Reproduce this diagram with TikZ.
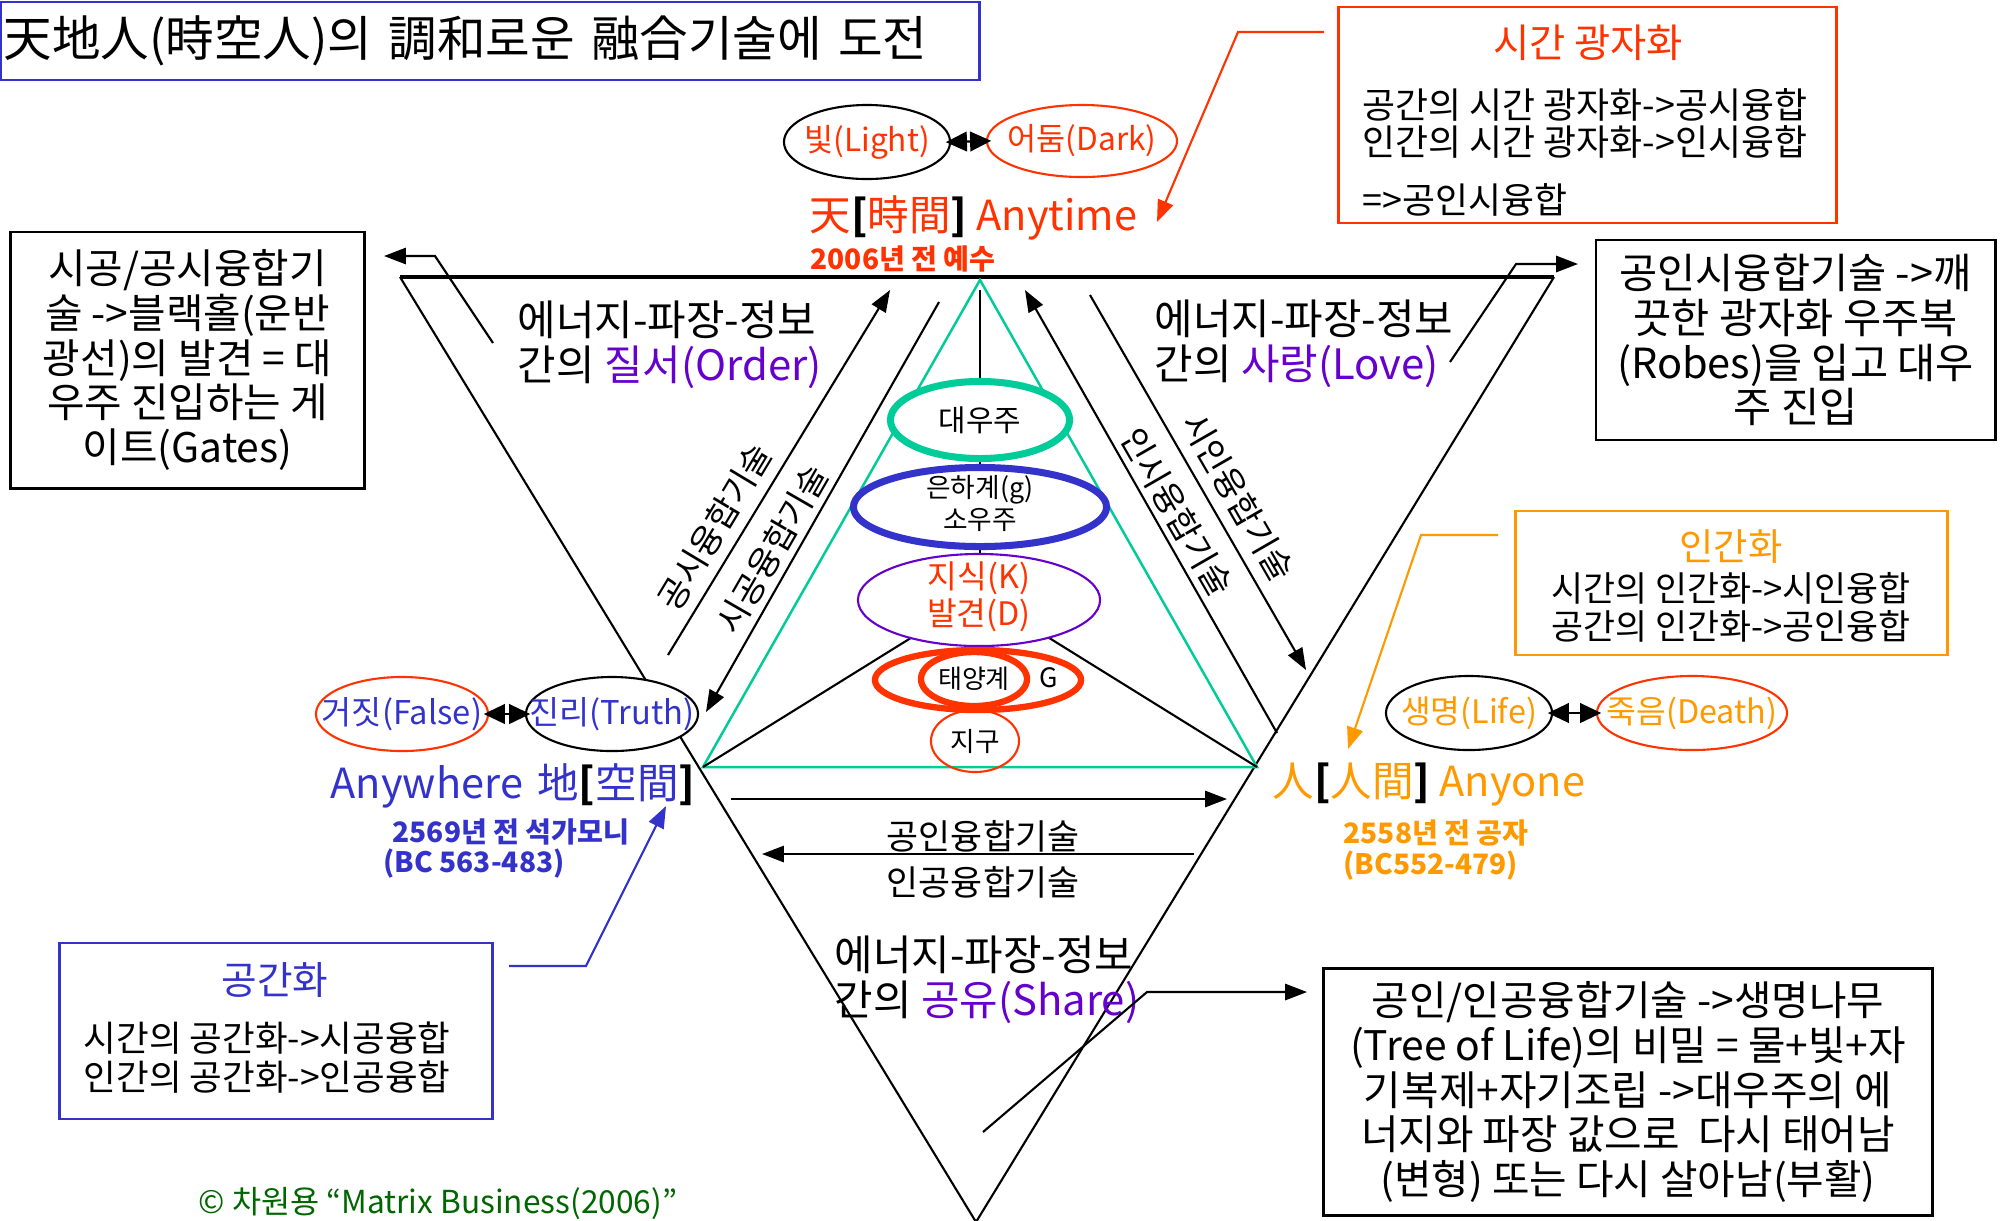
\documentclass[tikz,border=0pt]{standalone}
\usepackage{fontspec}
\setmainfont{Noto Sans CJK KR}
\usetikzlibrary{arrows.meta,shapes.geometric}
\definecolor{cred}{HTML}{FF3300}
\definecolor{cblue}{HTML}{3333CC}
\definecolor{cpurp}{HTML}{6600CC}
\definecolor{corange}{HTML}{FF9900}
\definecolor{cgreen}{HTML}{00CC99}
\definecolor{ccopy}{HTML}{006600}
\newcommand{\fsz}[2]{\fontsize{#1}{#2}\selectfont}
\newcommand{\cz}[1]{\makebox[0pt]{#1}}
\newcommand{\czz}[2]{\smash{\makebox[0pt]{\raisebox{-2pt}{\begin{tabular}{@{}c@{}}#1\\#2\end{tabular}}}}}
\tikzset{
  ln/.style={line width=0.6pt},
  arr/.style={line width=0.6pt,-{Triangle[length=6.2pt,width=4.6pt]}},
  dblarr/.style={line width=0.6pt,{Triangle[length=6pt,width=5.6pt]}-{Triangle[length=6pt,width=5.6pt]},shorten <=-1.5pt,shorten >=-1.5pt},
  ell/.style={ellipse,inner sep=0pt,fill=white,line width=0.6pt},
  boxnode/.style={draw,line width=0.8pt,inner sep=0pt},
  bigtext/.style={anchor=west,font=\fsz{11.8}{14}},
  yeartext/.style={anchor=west,font=\bfseries\fsz{8}{9}},
  energy/.style={anchor=west,align=left,font=\fsz{11.9}{12.8}},
  rotlabel/.style={font=\fsz{9.6}{11}},
  boxtext/.style={align=center,font=\fsz{11.6}{12.7}}
}
\begin{document}
\begin{tikzpicture}[x=0.01cm,y=-0.01cm,every node/.style={inner sep=0pt}]
\useasboundingbox (0,0) rectangle (2007,1220);
\fill[white] (0,0) rectangle (2007,1220);

% title
\node[draw=cblue,line width=0.8pt,minimum width=9.78cm,minimum height=0.78cm,text width=9.72cm,align=left,font=\fsz{13.8}{16}] (title) at (490,41) {天地人(時空人)의 調和로운 融合기술에 도전};

% big inverted triangle
\coordinate (TL) at (400,277);
\coordinate (TR) at (1554,277);
\coordinate (TB) at (976,1222);
\draw[ln] (TL) -- (TB) -- (TR);
\draw[line width=0.9pt] (TL) -- (TR);

% green triangle
\coordinate (GA) at (980,280);
\coordinate (GL) at (703,767);
\coordinate (GR) at (1257,767);
\draw[cgreen,line width=0.7pt] (GA) -- (GL) -- (GR) -- cycle;

% inner black lines
\coordinate (VT) at (980,290);
\coordinate (BA) at (980,595);
\draw[ln] (VT) -- (BA);
\draw[ln] (GL) -- (BA) -- (GR);

% stacked ellipses
\node[ell,draw=cgreen,line width=2pt,minimum width=1.79cm,minimum height=0.77cm,font=\fsz{8.5}{10}] (cosmos) at (980,420) {\cz{대우주}};
\node[ell,draw=cblue,line width=2pt,minimum width=2.53cm,minimum height=0.79cm,font=\fsz{7.6}{9.1}] (galaxy) at (980,507) {\czz{은하계(g)}{소우주}};
\node[ell,draw=cpurp,minimum width=2.42cm,minimum height=0.92cm,text=cred,font=\fsz{9.2}{10.5}] (know) at (979,600) {\czz{지식(K)}{발견(D)}};
\node[ell,draw=cred,line width=1.8pt,minimum width=2.06cm,minimum height=0.60cm] (solarout) at (978,680) {};
\node[ell,draw=cred,line width=1.8pt,minimum width=1.06cm,minimum height=0.54cm,font=\fsz{7.4}{9}] (solar) at (974,679) {\cz{태양계}};
\node[font=\fsz{7.6}{9}] (gee) at (1049,678) {G};
\node[ellipse,draw=cred,line width=0.6pt,minimum width=0.88cm,minimum height=0.62cm,font=\fsz{7.6}{9}] (earth) at (975,741) {\cz{지구}};

% Light / Dark
\node[ell,draw=black,minimum width=1.66cm,minimum height=0.74cm,text=cred,font=\fsz{9}{10}] (light) at (867,142) {\cz{빛(Light)}};
\node[ell,draw=cred,minimum width=1.90cm,minimum height=0.72cm,text=cred,font=\fsz{9}{10}] (dark) at (1082,141) {\cz{어둠(Dark)}};
\draw[dblarr] (light.east) -- (dark.west);

% heaven label
\node[bigtext,text=cred] (heaven) at (809,218) {天{\color{black}\textbf{[}}時間{\color{black}\textbf{]}} Anytime};
\node[yeartext,text=cred] (heaven2) at (810,259) {2006년 전 예수};

% time box
\node[boxnode,draw=cred,minimum width=4.97cm,minimum height=2.16cm] (tbox) at (1587.5,115) {};
\node[text=cred,font=\fsz{11.2}{13}] (tboxt) at (1588,43) {시간 광자화};
\node[anchor=west,font=\fsz{10.2}{12}] (tl1) at (1362,105) {공간의 시간 광자화->공시융합};
\node[anchor=west,font=\fsz{10.2}{12}] (tl2) at (1362,142) {인간의 시간 광자화->인시융합};
\node[anchor=west,font=\fsz{10.2}{12}] (tl3) at (1362,200) {=>공인시융합};
\coordinate (ta1) at (1324,32);
\coordinate (ta2) at (1238,32);
\coordinate (ta3) at (1157,222);
\draw[arr,cred] (ta1) -- (ta2) -- (ta3);

% left box
\node[boxnode,minimum width=3.53cm,minimum height=2.56cm,boxtext] (lbox) at (187.5,360) {시공/공시융합기\\술 ->블랙홀(운반\\광선)의 발견 = 대\\우주 진입하는 게\\이트(Gates)};
\coordinate (la1) at (493,343);
\coordinate (la2) at (435,256);
\coordinate (la3) at (384,256);
\draw[arr] (la1) -- (la2) -- (la3);

% right box
\node[boxnode,minimum width=3.99cm,minimum height=2.00cm,align=center,font=\fsz{11.8}{12.7}] (rbox) at (1795.5,340) {공인시융합기술 ->깨\\끗한 광자화 우주복\\(Robes)을 입고 대우\\주 진입};
\coordinate (ra1) at (1450,362);
\coordinate (ra2) at (1516,264);
\coordinate (ra3) at (1578,264);
\draw[arr] (ra1) -- (ra2) -- (ra3);

% energy labels
\node[energy] (eorder) at (517,345) {에너지-파장-정보\\간의 {\color{cpurp}질서(Order)}};
\node[energy] (elove) at (1154,344) {에너지-파장-정보\\간의 {\color{cpurp}사랑(Love)}};
\node[energy] (eshare) at (834,980) {에너지-파장-정보\\간의 {\color{cpurp}공유(Share)}};

% diagonal arrows
\coordinate (a1) at (668,655);
\coordinate (a2) at (890,290);
\coordinate (b1) at (939,302);
\coordinate (b2) at (706,712);
\coordinate (c1) at (1277,733);
\coordinate (c2) at (1025,290);
\coordinate (d1) at (1090,295);
\coordinate (d2) at (1306,670);
\draw[arr] (a1) -- (a2);
\draw[arr] (b1) -- (b2);
\draw[arr] (c1) -- (c2);
\draw[arr] (d1) -- (d2);
\node[rotlabel,rotate=59] (lblA) at (715,527) {공시융합기술};
\node[rotlabel,rotate=60] (lblB) at (772,549) {시공융합기술};
\node[rotlabel,rotate=-60] (lblC) at (1177,512) {인시융합기술};
\node[rotlabel,rotate=-60] (lblD) at (1238,497) {시인융합기술};

% False / Truth
\node[ell,draw=cred,minimum width=1.72cm,minimum height=0.74cm,text=cblue,font=\fsz{9.3}{11}] (false) at (402,714) {\cz{거짓(False)}};
\node[ell,draw=black,minimum width=1.72cm,minimum height=0.74cm,text=cblue,font=\fsz{9.3}{11}] (truth) at (612,714) {\cz{진리(Truth)}};
\draw[dblarr] (false.east) -- (truth.west);

% earth label
\node[bigtext,text=cblue] (earthl) at (330,786) {Anywhere\hspace{0.35em}地{\color{black}\textbf{[}}空間{\color{black}\textbf{]}}};
\node[yeartext,text=cblue] (earthl2) at (392,832) {2569년 전 석가모니};
\node[yeartext,text=cblue] (earthl3) at (383,864) {(BC 563-483)};

% Life / Death
\node[ell,draw=black,minimum width=1.66cm,minimum height=0.74cm,text=corange,font=\fsz{9.2}{11}] (life) at (1469,713) {\cz{생명(Life)}};
\node[ell,draw=cred,minimum width=1.90cm,minimum height=0.74cm,text=corange,font=\fsz{9.2}{11}] (death) at (1692,713) {\cz{죽음(Death)}};
\draw[dblarr] (life.east) -- (death.west);

% human label
\node[bigtext,text=corange] (human) at (1272,785) {人{\color{black}\textbf{[}}人間{\color{black}\textbf{]}} Anyone};
\node[yeartext,text=corange] (human2) at (1343,833) {2558년 전 공자};
\node[yeartext,text=corange] (human3) at (1343,866) {(BC552-479)};

% humanisation box
\node[boxnode,draw=corange,minimum width=4.31cm,minimum height=1.44cm] (hbox) at (1731.5,583) {};
\node[text=corange,font=\fsz{10.6}{12}] (hboxt) at (1731,547) {인간화};
\node[align=center,font=\fsz{9.9}{10.9}] (hboxb) at (1731,607) {시간의 인간화->시인융합\\공간의 인간화->공인융합};
\coordinate (ha1) at (1498,535);
\coordinate (ha2) at (1421,535);
\coordinate (ha3) at (1348,749);
\draw[arr,corange] (ha1) -- (ha2) -- (ha3);

% spatialisation box
\node[boxnode,draw=cblue,minimum width=4.32cm,minimum height=1.76cm] (sbox) at (276,1031) {};
\node[text=cblue,font=\fsz{11}{13}] (sboxt) at (275,980) {공간화};
\node[anchor=west,align=left,font=\fsz{10.1}{11.1}] (sboxb) at (83,1058) {시간의 공간화->시공융합\\인간의 공간화->인공융합};
\coordinate (sa1) at (509,966);
\coordinate (sa2) at (586,966);
\coordinate (sa3) at (666,806);
\draw[arr,cblue] (sa1) -- (sa2) -- (sa3);

% bottom horizontal arrows
\coordinate (h1s) at (731,799);
\coordinate (h1e) at (1227,799);
\coordinate (h2s) at (1194,854);
\coordinate (h2e) at (762,854);
\draw[arr] (h1s) -- (h1e);
\draw[arr] (h2s) -- (h2e);
\node[font=\fsz{9.9}{11}] (gi) at (983,836) {공인융합기술};
\node[font=\fsz{9.9}{11}] (ig) at (983,882) {인공융합기술};

% share arrow and bottom right box
\node[boxnode,minimum width=6.08cm,minimum height=2.47cm,boxtext] (brbox) at (1628,1092) {공인/인공융합기술 ->생명나무\\(Tree of Life)의 비밀 = 물+빛+자\\기복제+자기조립 ->대우주의 에\\너지와 파장 값으로\ \ 다시 태어남\\(변형) 또는 다시 살아남(부활)};
\coordinate (sh1) at (983,1132);
\coordinate (sh2) at (1147,992);
\coordinate (sh3) at (1307,992);
\draw[arr] (sh1) -- (sh2) -- (sh3);

% copyright
\node[anchor=west,text=ccopy,font=\fsz{9}{10}] (copy) at (198,1203) {© 차원용 “Matrix Business(2006)”};
\end{tikzpicture}
\end{document}
